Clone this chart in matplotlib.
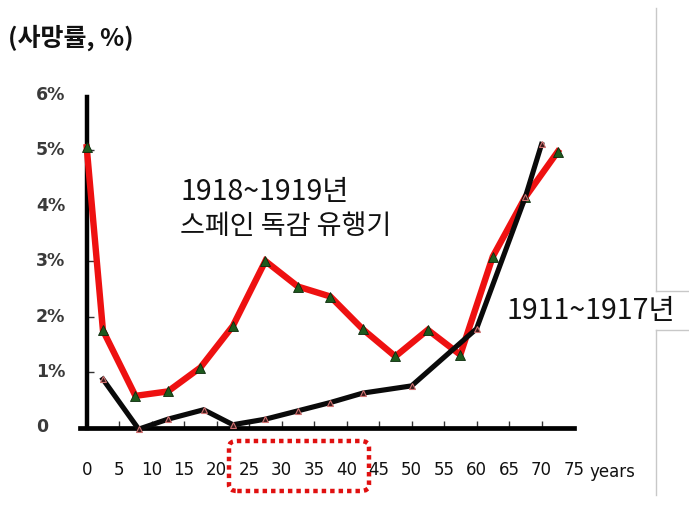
import matplotlib
matplotlib.use("Agg")
import matplotlib.pyplot as plt
from matplotlib.patches import FancyBboxPatch
from matplotlib.lines import Line2D
from matplotlib.transforms import blended_transform_factory

plt.rcParams['font.family'] = ['Noto Sans CJK KR', 'DejaVu Sans']

# Data
ages_1918 = [0, 2.5, 7.5, 12.5, 17.5, 22.5, 27.5, 32.5, 37.5, 42.5, 47.5, 52.5, 57.5, 62.5, 67.5, 72.5]
rate_1918 = [5.05, 1.75, 0.57, 0.65, 1.08, 1.83, 3.0, 2.54, 2.36, 1.77, 1.28, 1.76, 1.31, 3.08, 4.15, 4.97]
ages_1911 = [2.5, 8, 12.5, 18, 22.5, 27.5, 32.5, 37.5, 42.5, 50, 60, 67.5, 70]
rate_1911 = [0.87, -0.03, 0.15, 0.32, 0.05, 0.15, 0.3, 0.45, 0.62, 0.75, 1.78, 4.15, 5.1]
x_ticks = [0, 5, 10, 15, 20, 25, 30, 35, 40, 45, 50, 55, 60, 65, 70, 75]
y_ticks = [0, 1, 2, 3, 4, 5, 6]
y_labels = ["0", "1%", "2%", "3%", "4%", "5%", "6%"]

W, H = 689, 509
fig = plt.figure(figsize=(W / 100, H / 100), dpi=100)
x0_px = 86.7
px_per_year = 6.5
ax_left_px = x0_px - 1 * px_per_year
ax = fig.add_axes([ax_left_px / W, (H - 427.5) / H, (574 - ax_left_px) / W, 333 / H])
ax.set_xlim(-1, 75)
ax.set_ylim(0, 6)

for s in ['top', 'right']:
    ax.spines[s].set_visible(False)
ax.spines['left'].set_position(('data', 0))
ax.spines['left'].set_linewidth(3.2)
ax.spines['bottom'].set_linewidth(3.4)
ax.spines['left'].set_bounds(0, 5.95)

ax.set_xticks(x_ticks[1:-1])
ax.set_yticks(y_ticks[1:-1])
ax.tick_params(axis='both', direction='in', length=5, width=1, color='#333333',
               labelbottom=False, labelleft=False)

# lines
ax.plot(ages_1918, rate_1918, color='#ee1111', lw=4.6, solid_joinstyle='miter',
        marker='^', markersize=6.5, markerfacecolor='#1d5a1d', markeredgecolor='#0b2a0b',
        markeredgewidth=0.6, zorder=3, clip_on=False)
ax.plot(ages_1911, rate_1911, color='#0a0a0a', lw=3.7, solid_joinstyle='miter',
        marker='^', markersize=5, markerfacecolor='#3a1a1a', markeredgecolor='#d07070',
        markeredgewidth=0.8, zorder=4, clip_on=False)

# tick labels
tr_y = blended_transform_factory(fig.transFigure, ax.transData)
for v, lab in zip(y_ticks, y_labels):
    ax.text(36 / W, v, lab, transform=tr_y, ha='left', va='center', fontsize=12.5,
            family=['DejaVu Sans'], fontweight='bold', color='#3a3a3a')
tr_x = blended_transform_factory(ax.transData, fig.transFigure)
for v in x_ticks:
    ax.text(v, 1 - 470 / H, str(v), transform=tr_x, ha='center', va='center', fontsize=12,
            family=['DejaVu Sans'], color='#111111', clip_on=False)
fig.text(612 / W, 1 - 472 / H, "years", ha='center', va='center', fontsize=12,
         family=['DejaVu Sans'], color='#111111')

# annotations
fig.text(8 / W, 1 - 38 / H, "(사망률, %)", ha='left', va='center', fontsize=18,
         fontweight='bold', color='#111111')
fig.text(181 / W, 1 - 192 / H, "1918~1919년", ha='left', va='center', fontsize=20.5,
         color='#111111')
fig.text(180 / W, 1 - 227 / H, "스페인 독감 유행기", ha='left', va='center', fontsize=19.5,
         color='#111111')
fig.text(591 / W, 1 - 311 / H, "1911~1917년", ha='center', va='center', fontsize=20.5,
         color='#111111', zorder=5,
         bbox=dict(boxstyle='square,pad=0.1', facecolor='white', edgecolor='none'))

# page border lines
gray = '#c8c8c8'
fig.add_artist(Line2D([656 / W, 656 / W], [1 - 8 / H, 1 - 291 / H], transform=fig.transFigure, color=gray, lw=1))
fig.add_artist(Line2D([656 / W, 656 / W], [1 - 330 / H, 1 - 495 / H], transform=fig.transFigure, color=gray, lw=1))
fig.add_artist(Line2D([656 / W, 1], [1 - 291 / H, 1 - 291 / H], transform=fig.transFigure, color=gray, lw=1))
fig.add_artist(Line2D([656 / W, 1], [1 - 330 / H, 1 - 330 / H], transform=fig.transFigure, color=gray, lw=1))

# red dotted highlight box
box = FancyBboxPatch((229 / W, 1 - 491 / H), (369 - 229) / W, (491 - 441) / H,
                     boxstyle='round,pad=0,rounding_size=0.012', transform=fig.transFigure,
                     facecolor='none', edgecolor='#e01010', lw=3.2, linestyle=(0, (1, 0.9)))
fig.add_artist(box)

fig.savefig('out.png', dpi=100)
